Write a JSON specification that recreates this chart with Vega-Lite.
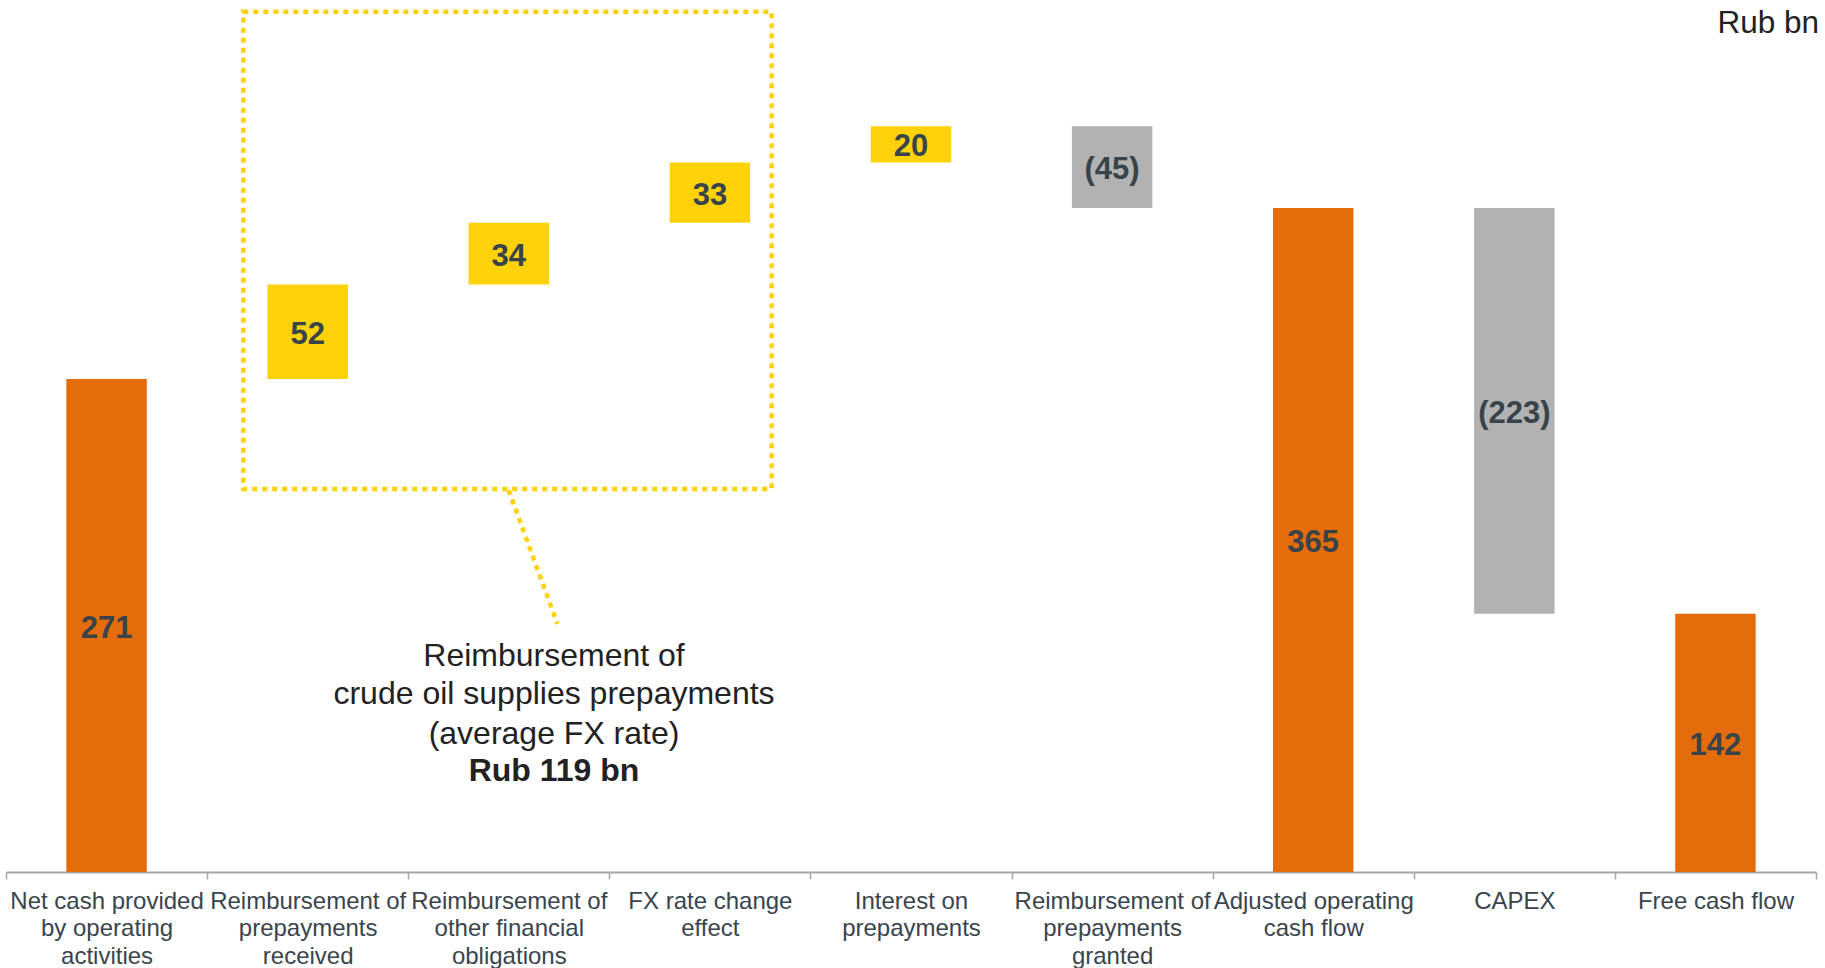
{
  "$schema": "https://vega.github.io/schema/vega-lite/v6.json",
  "width": 1810,
  "height": 872,
  "autosize": "none",
  "padding": {"left": 6, "right": 9, "top": 0, "bottom": 96},
  "background": "white",
  "config": {
    "view": {"stroke": null},
    "font": "Liberation Sans"
  },
  "datasets": {
    "flow": [
      {"category": "Net cash provided by operating activities", "start": 0, "end": 271, "kind": "total", "label": "271"},
      {"category": "Reimbursement of prepayments received", "start": 271, "end": 323, "kind": "increase", "label": "52"},
      {"category": "Reimbursement of other financial obligations", "start": 323, "end": 357, "kind": "increase", "label": "34"},
      {"category": "FX rate change effect", "start": 357, "end": 390, "kind": "increase", "label": "33"},
      {"category": "Interest on prepayments", "start": 390, "end": 410, "kind": "increase", "label": "20"},
      {"category": "Reimbursement of prepayments granted", "start": 410, "end": 365, "kind": "decrease", "label": "(45)"},
      {"category": "Adjusted operating cash flow", "start": 0, "end": 365, "kind": "total", "label": "365"},
      {"category": "CAPEX", "start": 365, "end": 142, "kind": "decrease", "label": "(223)"},
      {"category": "Free cash flow", "start": 0, "end": 142, "kind": "total", "label": "142"}
    ],
    "box": [{"x1": 1.18, "x2": 3.807, "y1": 210.6, "y2": 473.0}],
    "connector": [{"x1": 2.499, "x2": 2.742, "y1": 210.0, "y2": 136.4}],
    "note": [
      {"pos": 2.725, "value": 118.8, "text": "Reimbursement of", "bold": false},
      {"pos": 2.725, "value": 97.7, "text": "crude oil supplies prepayments", "bold": false},
      {"pos": 2.725, "value": 76.0, "text": "(average FX rate)", "bold": false},
      {"pos": 2.725, "value": 55.5, "text": "Rub 119 bn", "bold": true}
    ],
    "unit": [{"pos": 9, "value": 466.0, "text": "Rub bn"}]
  },
  "resolve": {"scale": {"x": "independent"}},
  "layer": [
    {
      "data": {"name": "flow"},
      "transform": [{"calculate": "(datum.start + datum.end) / 2", "as": "mid"}],
      "encoding": {
        "x": {
          "field": "category",
          "type": "nominal",
          "sort": null,
          "scale": {"paddingInner": 0, "paddingOuter": 0},
          "axis": {
            "title": null,
            "labelAngle": 0,
            "tickBand": "extent",
            "domainColor": "#A6A6A6",
            "domainWidth": 2,
            "tickColor": "#A6A6A6",
            "tickWidth": 1.5,
            "tickSize": 7,
            "labelFont": "Liberation Sans",
            "labelFontSize": 24,
            "labelColor": "#3A444C",
            "labelLineHeight": 27.5,
            "labelPadding": 10,
            "labelLimit": 0,
            "labelBaseline": "top",
            "labelExpr": "({'Net cash provided by operating activities': ['Net cash provided', 'by operating', 'activities'], 'Reimbursement of prepayments received': ['Reimbursement of', 'prepayments', 'received'], 'Reimbursement of other financial obligations': ['Reimbursement of', 'other financial', 'obligations'], 'FX rate change effect': ['FX rate change', 'effect'], 'Interest on prepayments': ['Interest on', 'prepayments'], 'Reimbursement of prepayments granted': ['Reimbursement of', 'prepayments', 'granted'], 'Adjusted operating cash flow': ['Adjusted operating', 'cash flow'], 'CAPEX': ['CAPEX'], 'Free cash flow': ['Free cash flow']})[datum.label]"
          }
        }
      },
      "layer": [
        {
          "mark": {"type": "bar", "width": {"band": 0.4}},
          "encoding": {
            "y": {"field": "start", "type": "quantitative", "scale": {"domain": [0, 479.4], "nice": false, "zero": true}, "axis": null},
            "y2": {"field": "end"},
            "color": {
              "field": "kind",
              "type": "nominal",
              "scale": {"domain": ["total", "increase", "decrease"], "range": ["#E46C0A", "#FDD209", "#B2B2B2"]},
              "legend": null
            }
          }
        },
        {
          "mark": {"type": "text", "font": "Liberation Sans", "fontWeight": "bold", "fontSize": 31, "color": "#38434A", "baseline": "middle", "align": "center", "dy": 3},
          "encoding": {
            "y": {"field": "mid", "type": "quantitative"},
            "text": {"field": "label"}
          }
        }
      ]
    },
    {
      "layer": [
        {
          "data": {"name": "box"},
          "mark": {"type": "rect", "fill": null, "fillOpacity": 0, "stroke": "#FDD209", "strokeWidth": 4.5, "strokeDash": [5, 5]},
          "encoding": {
            "x": {"field": "x1", "type": "quantitative", "scale": {"domain": [0, 9], "nice": false, "zero": false}, "axis": null},
            "x2": {"field": "x2"},
            "y": {"field": "y1", "type": "quantitative"},
            "y2": {"field": "y2"}
          }
        },
        {
          "data": {"name": "connector"},
          "mark": {"type": "rule", "stroke": "#FDD209", "strokeWidth": 4.5, "strokeDash": [5, 5]},
          "encoding": {
            "x": {"field": "x1", "type": "quantitative", "axis": null},
            "x2": {"field": "x2"},
            "y": {"field": "y1", "type": "quantitative"},
            "y2": {"field": "y2"}
          }
        },
        {
          "data": {"name": "note"},
          "transform": [{"filter": "!datum.bold"}],
          "mark": {"type": "text", "font": "Liberation Sans", "fontSize": 32, "color": "#222222", "align": "center", "baseline": "middle"},
          "encoding": {
            "x": {"field": "pos", "type": "quantitative", "axis": null},
            "y": {"field": "value", "type": "quantitative"},
            "text": {"field": "text"}
          }
        },
        {
          "data": {"name": "note"},
          "transform": [{"filter": "datum.bold"}],
          "mark": {"type": "text", "font": "Liberation Sans", "fontSize": 32, "fontWeight": "bold", "color": "#222222", "align": "center", "baseline": "middle"},
          "encoding": {
            "x": {"field": "pos", "type": "quantitative", "axis": null},
            "y": {"field": "value", "type": "quantitative"},
            "text": {"field": "text"}
          }
        },
        {
          "data": {"name": "unit"},
          "mark": {"type": "text", "font": "Liberation Sans", "fontSize": 31.5, "color": "#222222", "align": "right", "baseline": "middle", "dx": 3},
          "encoding": {
            "x": {"field": "pos", "type": "quantitative", "axis": null},
            "y": {"field": "value", "type": "quantitative"},
            "text": {"field": "text"}
          }
        }
      ]
    }
  ]
}
